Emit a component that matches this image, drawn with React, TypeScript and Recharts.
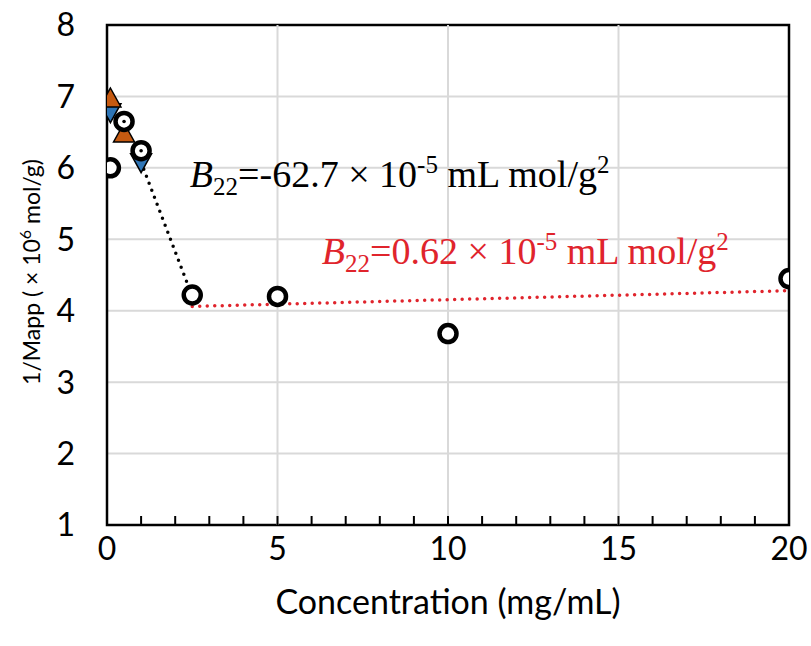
import React from 'react';
import {
  ComposedChart,
  Scatter,
  XAxis,
  YAxis,
  CartesianGrid,
  ReferenceLine,
  ReferenceArea,
  ReferenceDot,
} from 'recharts';

// Axis ticks
const xMajorTicks = [0, 5, 10, 15, 20];
const xMinorTicks = [0, 1, 2, 3, 4, 5, 6, 7, 8, 9, 10, 11, 12, 13, 14, 15, 16, 17, 18, 19, 20];
const yTicks = [1, 2, 3, 4, 5, 6, 7, 8];
const xGridLines = [5, 10, 15];

// Measured 1/Mapp values (×10^6 mol/g) against concentration (mg/mL)
const circlePoints = [
  { x: 0.1, y: 6.0 },
  { x: 0.5, y: 6.65 },
  { x: 1.0, y: 6.24 },
  { x: 2.5, y: 4.22 },
  { x: 5, y: 4.2 },
  { x: 10, y: 3.68 },
  { x: 20, y: 4.45 },
];
const centerDots = [
  { x: 0.5, y: 6.65 },
  { x: 1.0, y: 6.24 },
];
const orangePoints = [
  { x: 0.1, y: 6.95 },
  { x: 0.5, y: 6.46 },
];
const bluePoints = [
  { x: 0.1, y: 6.8 },
  { x: 1.0, y: 6.1 },
];

// Linear fits for the two concentration regimes
const steepFit = [
  { x: 1.0, y: 6.08 },
  { x: 2.5, y: 4.2 },
];
const flatFit = [
  { x: 2.5, y: 4.06 },
  { x: 20, y: 4.28 },
];

const W = 811;
const H = 646;
const serif = '"Liberation Serif", "Times New Roman", serif';
const sans = 'Lato, "Open Sans", sans-serif';
const RED = '#e0242c';

const OpenCircle = (p: any) => (
  <circle cx={p.cx} cy={p.cy} r={8.5} fill="#fff" stroke="#000" strokeWidth={4.5} />
);
const SmallDot = (p: any) => <circle cx={p.cx} cy={p.cy} r={1.8} fill="#000" />;
const UpTriangle = (p: any) => (
  <polygon
    points={`${p.cx},${p.cy - 12} ${p.cx + 10.5},${p.cy + 7} ${p.cx - 10.5},${p.cy + 7}`}
    fill="#c55a11"
    stroke="#000"
    strokeWidth={1.5}
  />
);
const DownTriangle = (p: any) => (
  <polygon
    points={`${p.cx - 10.5},${p.cy - 7} ${p.cx + 10.5},${p.cy - 7} ${p.cx},${p.cy + 12}`}
    fill="#2e75b6"
    stroke="#000"
    strokeWidth={1.5}
  />
);
const NoMark = () => <g />;

const XTick = (p: any) => {
  const v = p.payload.value;
  if (!xMajorTicks.includes(v)) return <g />;
  return (
    <text x={p.x} y={p.y + 44} textAnchor="middle" fontFamily={sans} fontSize={32} fill="#000">
      {v}
    </text>
  );
};

const B22Text = ({ cx, cy, value, color }: any) => (
  <text x={cx} y={cy} fontFamily={serif} fontSize={38} fill={color}>
    <tspan fontStyle="italic">B</tspan>
    <tspan fontSize={25} dy={8}>22</tspan>
    <tspan dy={-8}>{`=${value}  × 10`}</tspan>
    <tspan fontSize={25} dy={-14}>-5</tspan>
    <tspan dy={14}> mL mol/g</tspan>
    <tspan fontSize={25} dy={-14}>2</tspan>
  </text>
);

const YTitle = () => (
  <text
    transform="translate(40, 272) rotate(-90)"
    textAnchor="middle"
    fontFamily={sans}
    fontSize={23}
    fill="#000"
  >
    1/Mapp ( × 10<tspan fontSize={16} dy={-9}>6</tspan>
    <tspan dy={9}> mol/g)</tspan>
  </text>
);

const XTitle = () => (
  <text x={448} y={614} textAnchor="middle" fontFamily={sans} fontSize={34} fill="#000">
    Concentration (mg/mL)
  </text>
);

export default function App() {
  return (
    <div style={{ position: 'absolute', left: 0, top: 0, width: W, height: H, background: '#fff' }}>
      <ComposedChart
        width={W}
        height={H}
        margin={{ top: 25, right: 22, bottom: 51, left: 47 }}
      >
        <CartesianGrid vertical={false} stroke="#d9d9d9" strokeWidth={2} />
        {xGridLines.map((v) => (
          <ReferenceLine key={v} x={v} stroke="#d9d9d9" strokeWidth={2} />
        ))}
        <XAxis
          type="number"
          dataKey="x"
          domain={[0, 20]}
          ticks={xMinorTicks}
          interval={0}
          axisLine={false}
          tickLine={{ stroke: '#000', strokeWidth: 2 }}
          tickSize={-9}
          tickMargin={0}
          tick={<XTick />}
          height={70}
          allowDataOverflow
        />
        <YAxis
          type="number"
          dataKey="y"
          domain={[1, 8]}
          ticks={yTicks}
          interval={0}
          axisLine={false}
          tickLine={false}
          tickSize={0}
          tickMargin={32}
          width={60}
          tick={{ fontFamily: sans, fontSize: 32, fill: '#000' }}
        />
        <ReferenceArea
          x1={0}
          x2={20}
          y1={1}
          y2={8}
          fill="none"
          stroke="#000"
          strokeWidth={2.5}
          ifOverflow="visible"
        />
        <Scatter
          data={steepFit}
          shape={NoMark}
          line={{ stroke: '#000', strokeWidth: 3.5, strokeDasharray: '0 7.5', strokeLinecap: 'round' }}
          isAnimationActive={false}
        />
        <Scatter
          data={flatFit}
          shape={NoMark}
          line={{ stroke: RED, strokeWidth: 3.5, strokeDasharray: '0 7.5', strokeLinecap: 'round' }}
          isAnimationActive={false}
        />
        <Scatter data={bluePoints} shape={DownTriangle} isAnimationActive={false} />
        <Scatter data={orangePoints} shape={UpTriangle} isAnimationActive={false} />
        <Scatter data={circlePoints} shape={OpenCircle} isAnimationActive={false} />
        <Scatter data={centerDots} shape={SmallDot} isAnimationActive={false} />
        <ReferenceDot
          x={2.43}
          y={5.73}
          r={0}
          ifOverflow="visible"
          shape={(p: any) => <B22Text cx={p.cx} cy={p.cy} value="-62.7" color="#000" />}
        />
        <ReferenceDot
          x={6.3}
          y={4.65}
          r={0}
          ifOverflow="visible"
          shape={(p: any) => <B22Text cx={p.cx} cy={p.cy} value="0.62" color={RED} />}
        />
        <YTitle />
        <XTitle />
      </ComposedChart>
    </div>
  );
}
